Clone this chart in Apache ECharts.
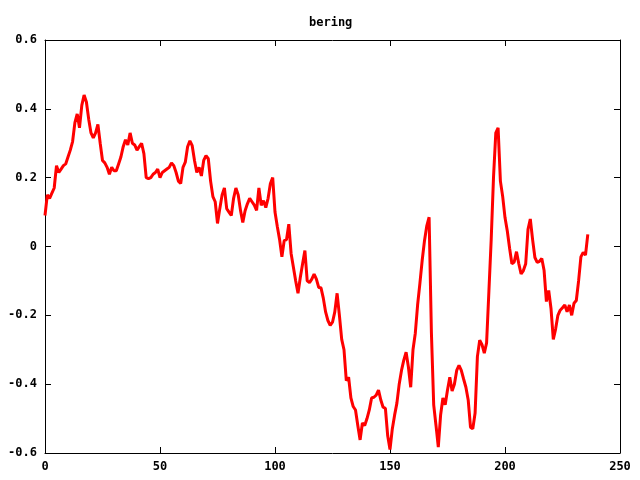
<!DOCTYPE html>
<html>
<head>
<meta charset="utf-8">
<script src="https://cdn.jsdelivr.net/npm/echarts@6/dist/echarts.min.js"></script>
<style>html,body{margin:0;padding:0;background:#fff}#c{width:640px;height:480px}</style>
</head>
<body>
<div id="c"></div>
<script>
var chartTitle = "bering";
var xTicks = [0, 50, 100, 150, 200, 250];
var yTicks = [-0.6, -0.4, -0.2, 0, 0.2, 0.4, 0.6];
// values at x = 0,1,2,... (index)
var values = [
 0.09, 0.15, 0.14, 0.155, 0.17, 0.235, 0.215, 0.225, 0.235, 0.24,
 0.26, 0.28, 0.305, 0.36, 0.385, 0.345, 0.41, 0.44, 0.42, 0.37,
 0.33, 0.316, 0.33, 0.355, 0.3, 0.25, 0.243, 0.23, 0.21, 0.23,
 0.22, 0.22, 0.24, 0.26, 0.29, 0.31, 0.295, 0.33, 0.3, 0.295,
 0.28, 0.29, 0.3, 0.27, 0.2, 0.197, 0.2, 0.21, 0.215, 0.225,
 0.2, 0.215, 0.22, 0.225, 0.23, 0.243, 0.235, 0.215, 0.19, 0.183,
 0.23, 0.245, 0.29, 0.307, 0.293, 0.25, 0.215, 0.23, 0.205, 0.25,
 0.264, 0.255, 0.19, 0.145, 0.13, 0.067, 0.11, 0.15, 0.17, 0.11,
 0.1, 0.09, 0.14, 0.17, 0.15, 0.105, 0.07, 0.104, 0.124, 0.14,
 0.13, 0.12, 0.105, 0.17, 0.12, 0.133, 0.113, 0.14, 0.183, 0.2,
 0.1, 0.058, 0.02, -0.03, 0.017, 0.02, 0.065, -0.02, -0.06, -0.1,
 -0.136, -0.09, -0.05, -0.012, -0.1, -0.105, -0.095, -0.08, -0.095, -0.119,
 -0.12, -0.15, -0.19, -0.215, -0.229, -0.22, -0.19, -0.136, -0.2, -0.27,
 -0.3, -0.39, -0.38, -0.44, -0.465, -0.475, -0.52, -0.562, -0.513, -0.52,
 -0.5, -0.475, -0.44, -0.438, -0.432, -0.417, -0.446, -0.467, -0.47, -0.55,
 -0.59, -0.53, -0.49, -0.455, -0.4, -0.36, -0.33, -0.307, -0.35, -0.409,
 -0.3, -0.252, -0.17, -0.107, -0.04, 0.017, 0.06, 0.085, -0.25, -0.46,
 -0.52, -0.583, -0.49, -0.44, -0.46, -0.417, -0.38, -0.42, -0.4, -0.36,
 -0.345, -0.36, -0.385, -0.409, -0.446, -0.525, -0.53, -0.484, -0.32, -0.272,
 -0.285, -0.31, -0.28, -0.13, 0.02, 0.2, 0.33, 0.345, 0.19, 0.145,
 0.084, 0.045, -0.005, -0.05, -0.045, -0.015, -0.05, -0.08, -0.07, -0.05,
 0.05, 0.08, 0.02, -0.032, -0.046, -0.043, -0.035, -0.07, -0.16, -0.128,
 -0.18, -0.27, -0.24, -0.2, -0.185, -0.178, -0.17, -0.19, -0.17, -0.2,
 -0.165, -0.157, -0.1, -0.03, -0.017, -0.025, 0.035
];
var seriesData = values.map(function (v, i) { return [i, v]; });

var font = { fontFamily: 'DejaVu Sans Mono', fontWeight: 'bold', fontSize: 12, color: '#000' };
var axisLine = { show: true, onZero: false, lineStyle: { color: '#000', width: 1 } };
var tick = { show: true, inside: true, length: 6, lineStyle: { color: '#000', width: 1 } };

var chart = echarts.init(document.getElementById('c'), null, { renderer: 'canvas' });
chart.setOption({
  animation: false,
  backgroundColor: '#fff',
  title: {
    text: chartTitle, left: 304, top: 12,
    textStyle: { fontFamily: 'DejaVu Sans Mono', fontWeight: 'bold', fontSize: 12, color: '#000' }
  },
  grid: { left: 45, right: 20, top: 40, bottom: 27, containLabel: false },
  xAxis: [
    { type: 'value', min: xTicks[0], max: xTicks[xTicks.length - 1], interval: 50, position: 'bottom',
      axisLine: axisLine, axisTick: tick, splitLine: { show: false },
      axisLabel: Object.assign({ margin: 8 }, font) },
    { type: 'value', min: xTicks[0], max: xTicks[xTicks.length - 1], interval: 50, position: 'top',
      axisLine: axisLine, axisTick: tick, splitLine: { show: false }, axisLabel: { show: false } }
  ],
  yAxis: [
    { type: 'value', min: yTicks[0], max: yTicks[yTicks.length - 1], interval: 0.2, position: 'left',
      axisLine: axisLine, axisTick: tick, splitLine: { show: false },
      axisLabel: Object.assign({ margin: 8, formatter: function (v) { return String(Math.round(v * 10) / 10); } }, font) },
    { type: 'value', min: yTicks[0], max: yTicks[yTicks.length - 1], interval: 0.2, position: 'right',
      axisLine: axisLine, axisTick: tick, splitLine: { show: false }, axisLabel: { show: false } }
  ],
  series: [{
    type: 'line', data: seriesData, xAxisIndex: 0, yAxisIndex: 0,
    showSymbol: false, symbol: 'none',
    lineStyle: { color: '#ff0000', width: 3 }, itemStyle: { color: '#ff0000' }
  }]
});
</script>
</body>
</html>
